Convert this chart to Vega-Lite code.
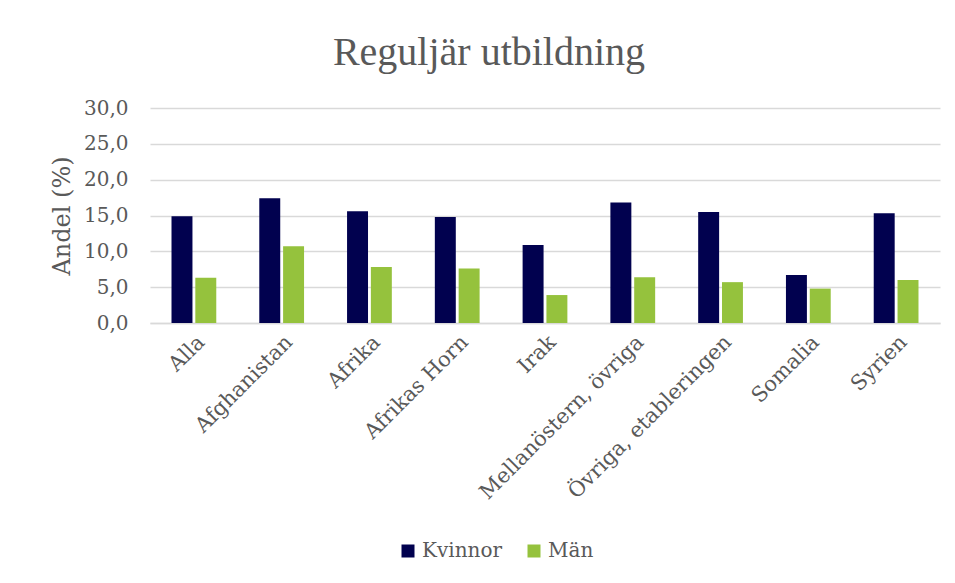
{
  "$schema": "https://vega.github.io/schema/vega-lite/v6.json",
  "width": 790,
  "height": 215,
  "autosize": {"type": "none"},
  "padding": {"left": 150, "top": 108, "right": 15, "bottom": 260},
  "background": "white",
  "title": {
    "text": "Reguljär utbildning",
    "font": "Liberation Serif",
    "fontSize": 40,
    "fontWeight": "normal",
    "color": "#595959",
    "anchor": "middle",
    "dx": -56,
    "offset": 25
  },
  "data": {
    "values": [
      {"land": "Alla", "kon": "Kvinnor", "andel": 14.9},
      {"land": "Alla", "kon": "Män", "andel": 6.3},
      {"land": "Afghanistan", "kon": "Kvinnor", "andel": 17.4},
      {"land": "Afghanistan", "kon": "Män", "andel": 10.7},
      {"land": "Afrika", "kon": "Kvinnor", "andel": 15.6},
      {"land": "Afrika", "kon": "Män", "andel": 7.8},
      {"land": "Afrikas Horn", "kon": "Kvinnor", "andel": 14.8},
      {"land": "Afrikas Horn", "kon": "Män", "andel": 7.6},
      {"land": "Irak", "kon": "Kvinnor", "andel": 10.9},
      {"land": "Irak", "kon": "Män", "andel": 3.9},
      {"land": "Mellanöstern, övriga", "kon": "Kvinnor", "andel": 16.8},
      {"land": "Mellanöstern, övriga", "kon": "Män", "andel": 6.4},
      {"land": "Övriga, etableringen", "kon": "Kvinnor", "andel": 15.5},
      {"land": "Övriga, etableringen", "kon": "Män", "andel": 5.7},
      {"land": "Somalia", "kon": "Kvinnor", "andel": 6.7},
      {"land": "Somalia", "kon": "Män", "andel": 4.8},
      {"land": "Syrien", "kon": "Kvinnor", "andel": 15.3},
      {"land": "Syrien", "kon": "Män", "andel": 6.0}
    ]
  },
  "mark": {"type": "bar"},
  "encoding": {
    "x": {
      "field": "land",
      "type": "nominal",
      "sort": null,
      "scale": {"paddingInner": 0.49, "paddingOuter": 0.245},
      "axis": {
        "title": null,
        "labelAngle": -45,
        "labelLimit": 0,
        "labelFont": "DejaVu Serif",
        "labelFontSize": 21,
        "labelColor": "#595959",
        "labelPadding": 8,
        "ticks": false,
        "domainColor": "#D9D9D9",
        "domainWidth": 1.5
      }
    },
    "xOffset": {"field": "kon", "type": "nominal", "scale": {"paddingInner": 0.12}},
    "y": {
      "field": "andel",
      "type": "quantitative",
      "scale": {"domain": [0, 30]},
      "axis": {
        "title": "Andel (%)",
        "titleFont": "DejaVu Serif",
        "titleFontSize": 24,
        "titleFontWeight": "normal",
        "titleColor": "#595959",
        "titlePadding": 9,
        "values": [0, 5, 10, 15, 20, 25, 30],
        "labelExpr": "replace(format(datum.value, '.1f'), '.', ',')",
        "labelFont": "DejaVu Serif",
        "labelFontSize": 20,
        "labelColor": "#595959",
        "labelPadding": 22,
        "ticks": false,
        "domain": false,
        "gridColor": "#D9D9D9",
        "gridWidth": 1.5
      }
    },
    "color": {
      "field": "kon",
      "type": "nominal",
      "scale": {"domain": ["Kvinnor", "Män"], "range": ["#01014F", "#95C23D"]},
      "legend": {
        "title": null,
        "orient": "none",
        "direction": "horizontal",
        "legendX": 248,
        "legendY": 433,
        "symbolType": "square",
        "symbolSize": 169,
        "symbolStrokeWidth": 0,
        "symbolOpacity": 1,
        "labelFont": "DejaVu Serif",
        "labelFontSize": 20,
        "labelColor": "#595959",
        "columnPadding": 22
      }
    }
  },
  "config": {"view": {"stroke": null}}
}
